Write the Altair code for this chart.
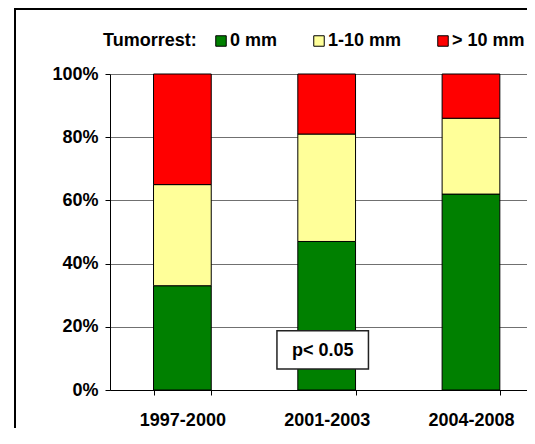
import altair as alt
import pandas as pd

# ---- data ----
periods = ["1997-2000", "2001-2003", "2004-2008"]
categories = ["0 mm", "1-10 mm", "> 10 mm"]
share_0mm = [33, 47, 62]
share_1_10mm = [32, 34, 24]
share_over10mm = [35, 19, 14]
colors = ["#008000", "#FFFF99", "#FF0000"]
y_ticks = [0, 20, 40, 60, 80, 100]
legend_title = "Tumorrest:"
p_label = "p< 0.05"
p_period = "2001-2003"
p_y = 12.7

rows = []
series = [share_0mm, share_1_10mm, share_over10mm]
for i, p in enumerate(periods):
    for j, c in enumerate(categories):
        rows.append({"period": p, "cat": c, "pct": series[j][i], "ord": j})
df = pd.DataFrame(rows)
ann = pd.DataFrame({"period": [p_period], "y": [p_y], "label": [p_label]})
frame = pd.DataFrame({"a": [0]})

FONT = "Liberation Sans"
FS = 18
W, H = 417, 316

xscale = alt.Scale(domain=periods, paddingInner=0.6, paddingOuter=0.2449, align=0.6157)
yscale = alt.Scale(domain=[0, 100], nice=False, zero=True)

x_axis = alt.Axis(
    title=None, labelAngle=0, tickBand="extent", labelFont=FONT, labelFontSize=FS,
    labelFontWeight="bold", labelColor="black", labelPadding=16, domainColor="black",
    domainWidth=1, tickColor="black", tickSize=5, tickWidth=1, grid=False,
)
y_axis = alt.Axis(
    title=None, values=y_ticks, labelExpr="datum.value + '%'", labelFont=FONT,
    labelFontSize=FS, labelFontWeight="bold", labelColor="black", labelPadding=7,
    domainColor="black", domainWidth=1, tickColor="black", tickSize=5, tickWidth=1,
    grid=True, gridColor="#707070", gridWidth=1, gridOpacity=1,
)

bars = alt.Chart(df).mark_bar(stroke="black", strokeWidth=1, opacity=1).encode(
    x=alt.X("period:N", scale=xscale, sort=periods, axis=x_axis),
    y=alt.Y("pct:Q", stack="zero", scale=yscale, axis=y_axis),
    color=alt.Color(
        "cat:N",
        scale=alt.Scale(domain=categories, range=colors),
        legend=alt.Legend(
            title=legend_title, orient="none", legendX=-7, legendY=-42,
            direction="horizontal", titleOrient="left", titleFont=FONT,
            titleFontSize=FS, titleFontWeight="bold", titleColor="black",
            titlePadding=15, titleBaseline="middle", labelFont=FONT, labelFontSize=FS,
            labelFontWeight="bold", labelColor="black", symbolType="square",
            symbolSize=110, symbolStrokeColor="black", symbolStrokeWidth=1,
            symbolOpacity=1, labelOffset=0, columnPadding=32,
        ),
    ),
    order=alt.Order("ord:Q", sort="ascending"),
)

box_path = "M-1.087,-0.419L0.913,-0.419L0.913,0.419L-1.087,0.419Z"
box = alt.Chart(ann).mark_point(
    shape=box_path, size=8372, filled=True, fill="white", stroke="#222222",
    strokeWidth=1.5, opacity=1,
).encode(
    x=alt.X("period:N", scale=xscale, sort=periods, axis=x_axis),
    y=alt.Y("y:Q", scale=yscale, axis=y_axis),
)

text = alt.Chart(ann).mark_text(
    font=FONT, fontSize=FS, fontWeight="bold", color="black", dx=-4, dy=1,
    baseline="middle", align="center",
).encode(
    x=alt.X("period:N", scale=xscale, sort=periods, axis=x_axis),
    y=alt.Y("y:Q", scale=yscale, axis=y_axis),
    text="label:N",
)

# outer chart frame (its right and bottom edges lie outside the picture, as in the reference)
outer_frame = alt.Chart(frame).mark_rect(
    fill="transparent", stroke="black", strokeWidth=2
).encode(
    x=alt.value(-95), x2=alt.value(700), y=alt.value(-65), y2=alt.value(700)
)

chart = (
    alt.layer(bars, box, text, outer_frame)
    .properties(
        width=W, height=H, background="white",
        autosize=alt.AutoSizeParams(type="none"),
        padding={"left": 102, "top": 66, "right": 0, "bottom": 38},
    )
    .configure_view(stroke=None)
)

chart.save("out.html", embed_options={"renderer": "svg", "actions": False})
